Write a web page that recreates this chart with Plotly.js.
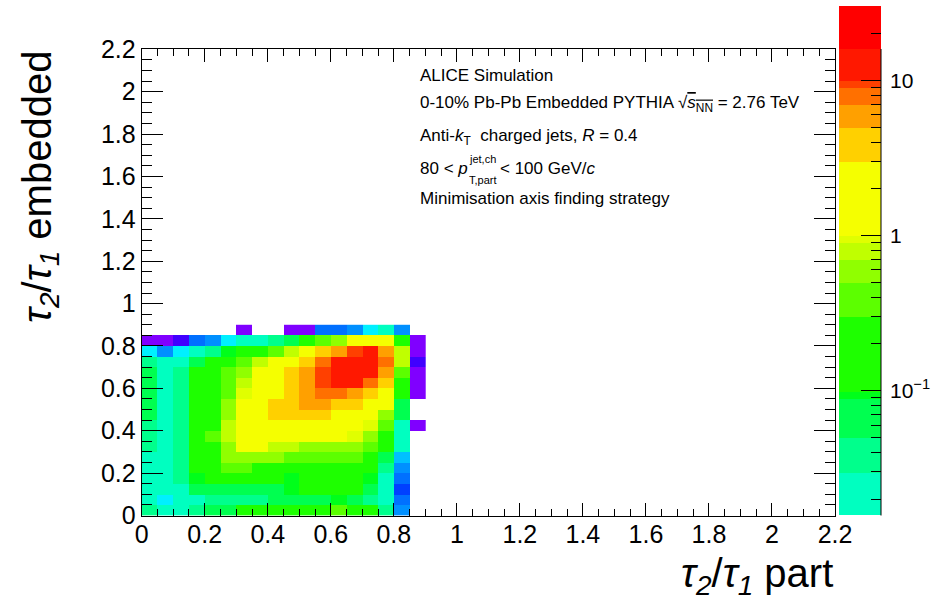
<!DOCTYPE html>
<html>
<head>
<meta charset="utf-8">
<script src="https://cdn.plot.ly/plotly-3.0.1.min.js"></script>
<style>html,body{margin:0;padding:0;background:#fff;}</style>
</head>
<body>
<div id="chart" style="width:932px;height:600px;"></div>
<script>
// ---------------- DATA ----------------
// bin edges of tau2/tau1 (part) and tau2/tau1 (embedded)
const xBinEdges = [0,0.05,0.1,0.15,0.2,0.25,0.3,0.35,0.4,0.45,0.5,0.55,0.6,0.65,0.7,0.75,0.8,0.85,0.9];
const yBinEdges = [0,0.05,0.1,0.15,0.2,0.25,0.3,0.35,0.4,0.45,0.5,0.55,0.6,0.65,0.7,0.75,0.8,0.85,0.9];

// bin contents, one row per embedded bin (bottom row first), null = empty
const row00 = [0.04,0.022,0.022,0.04,0.07,0.07,0.2,0.2,0.2,0.2,0.2,0.2,0.4,0.2,0.2,0.03,0.005,null];
const row01 = [0.022,0.012,0.022,0.022,0.04,0.04,0.04,0.04,0.07,0.07,0.07,0.07,0.095,0.07,0.04,0.022,0.0035,null];
const row02 = [0.022,0.022,0.022,0.07,0.07,0.07,0.07,0.07,0.07,0.095,0.2,0.2,0.2,0.2,0.07,0.022,0.002,null];
const row03 = [0.022,0.022,0.04,0.095,0.2,0.2,0.2,0.2,0.2,0.095,0.2,0.2,0.2,0.2,0.095,0.022,0.0035,null];
const row04 = [0.022,0.022,0.04,0.2,0.2,0.4,0.4,0.2,0.2,0.2,0.2,0.2,0.2,0.2,0.2,0.04,0.005,null];
const row05 = [0.022,0.022,0.04,0.2,0.2,0.6,0.6,0.6,0.6,0.4,0.4,0.4,0.4,0.4,0.2,0.07,0.008,null];
const row06 = [0.04,0.022,0.04,0.2,0.2,0.6,2,2,0.8,0.8,0.6,0.6,0.6,0.6,0.4,0.2,0.022,null];
const row07 = [0.04,0.022,0.04,0.2,0.4,0.8,2,2,2,2,2,2,2,0.95,0.6,0.2,0.022,null];
const row08 = [0.04,0.022,0.04,0.2,0.2,0.8,2,2,2,2,2,2,2,2,0.95,0.4,0.022,0.0008];
const row09 = [0.07,0.022,0.04,0.2,0.2,0.6,2,2,4,4,4,4,2,2,2,0.6,0.07,null];
const row10 = [0.07,0.022,0.04,0.2,0.2,0.6,2,2,4,4,6,6,4,4,2,2,0.07,null];
const row11 = [0.07,0.022,0.04,0.2,0.2,0.4,0.95,2,2,4,6,8,8,6,4,2,0.2,0.0008];
const row12 = [0.07,0.022,0.04,0.2,0.2,0.4,0.8,2,2,4,6,9.5,13,13,8,4,0.2,0.0008];
const row13 = [0.07,0.022,0.04,0.2,0.2,0.4,0.6,2,2,4,6,9.5,13,13,13,6,0.4,0.0008];
const row14 = [0.04,0.022,0.022,0.07,0.2,0.2,0.4,0.8,2,2,4,8,13,13,13,8,0.8,0.0013];
const row15 = [0.012,0.005,0.012,0.022,0.04,0.095,0.2,0.2,0.4,0.8,2,4,6,9.5,13,6,0.8,0.0008];
const row16 = [0.0008,0.0008,0.0013,0.003,0.005,0.012,0.022,0.022,0.04,0.07,0.2,0.4,0.6,2,2,2,0.2,0.0008];
const row17 = [null,null,null,null,null,null,0.0008,null,null,0.0008,0.0008,0.003,0.003,0.005,0.012,0.022,0.005,null];
const counts = [row00,row01,row02,row03,row04,row05,row06,row07,row08,row09,row10,row11,row12,row13,row14,row15,row16,row17];

// axis tick labels
const cbTickVals = [0.1, 1, 10];
const cbTickText = ['10<sup>\u22121</sup>', '1', '10'];
const cbMinorVals = [0.02,0.03,0.04,0.05,0.06,0.07,0.08,0.09,0.2,0.3,0.4,0.5,0.6,0.7,0.8,0.9,2,3,4,5,6,7,8,9,20,30];

// ---------------- PALETTE (log10 contour levels + colours) ----------------
const levelEdges = [-3.2,-3.0,-2.8,-2.6,-2.4,-2.2,-2.0,-1.801,-1.529,-1.304,-1.053,-1.008,-0.525,-0.306,-0.157,-0.048,0,0.473,0.693,0.841,0.950,0.995,1.202,1.479];
const levelColors = ['#8000ff','#4000ff','#0040ff','#0070ff','#0090ff','#00c0ff','#00f0ff',
  '#00ffc0','#00ff8c','#00ff50','#00ff1a','#1eff00','#5cff00','#90ff00','#c0ff00','#e0ff00','#f5ff00',
  '#ffd000','#ffa000','#ff7000','#ff4000','#ff1800','#ff0000'];
const cbFirstLevel = 7; // colour bar shows levels from here up

const zmin = levelEdges[0], zmax = levelEdges[levelEdges.length-1];
const colorscale = [];
for (let i = 0; i < levelColors.length; i++) {
  colorscale.push([(levelEdges[i]-zmin)/(zmax-zmin), levelColors[i]]);
  colorscale.push([(levelEdges[i+1]-zmin)/(zmax-zmin), levelColors[i]]);
}
colorscale[0][0] = 0; colorscale[colorscale.length-1][0] = 1;

const zLog = counts.map(r => r.map(v => v == null ? null : Math.log10(v)));

const cbEdges = levelEdges.slice(cbFirstLevel).map(e => Math.pow(10, e));
const cbZ = [];
for (let i = cbFirstLevel; i < levelColors.length; i++) cbZ.push([(levelEdges[i]+levelEdges[i+1])/2]);

// ---------------- TRACES ----------------
const traces = [
  {type:'heatmap', x:xBinEdges, y:yBinEdges, z:zLog, zmin:zmin, zmax:zmax, colorscale:colorscale,
   showscale:false, hoverongaps:false, xaxis:'x', yaxis:'y'},
  {type:'heatmap', x:[0,1], y:cbEdges, z:cbZ, zmin:zmin, zmax:zmax, colorscale:colorscale,
   showscale:false, xaxis:'x2', yaxis:'y2'},
  {type:'scatter', x:[0.5], y:[1], mode:'markers', marker:{opacity:0}, hoverinfo:'skip', xaxis:'x2', yaxis:'y3'}
];

// ---------------- LAYOUT ----------------
const W = 932, H = 600;
const FONT = 'Liberation Sans, Arial, Helvetica, sans-serif';
const px = v => v / W, py = v => 1 - v / H;
const axCommon = {range:[0,2.2], dtick:0.2, tick0:0, ticks:'inside', tickcolor:'black', tickwidth:1,
  showline:true, linecolor:'black', linewidth:1, mirror:'allticks', showgrid:false, zeroline:false,
  tickfont:{family:FONT, size:25, color:'black'}, fixedrange:true};
const TXT = {family:FONT, size:17, color:'black'};
const SCR = {family:FONT, size:11, color:'black'};

const layout = {
  width:W, height:H, margin:{l:0, r:0, t:0, b:0}, paper_bgcolor:'white', plot_bgcolor:'white',
  showlegend:false, font:{family:FONT, color:'black'},
  xaxis: Object.assign({}, axCommon, {domain:[px(141.7), px(835)], anchor:'y', ticklen:13, ticklabelstandoff:-4,
    minor:{dtick:0.05, tick0:0, ticks:'inside', ticklen:7, tickcolor:'black', tickwidth:1, showgrid:false}}),
  yaxis: Object.assign({}, axCommon, {domain:[py(515.5), py(49.3)], anchor:'x', ticklen:21,
    minor:{dtick:0.05, tick0:0, ticks:'inside', ticklen:10.5, tickcolor:'black', tickwidth:1, showgrid:false}}),
  xaxis2:{domain:[px(839), px(881)], range:[0,1], visible:false, anchor:'y2', fixedrange:true},
  yaxis2:{domain:[py(515), py(6)], type:'log', range:[levelEdges[cbFirstLevel], zmax], anchor:'x2', side:'right',
    tickmode:'array', tickvals:cbTickVals, ticktext:cbTickText, ticks:'inside', ticklen:20, tickcolor:'black', tickwidth:1,
    ticklabelstandoff:8,
    showline:false, showgrid:false, zeroline:false, tickfont:{family:FONT, size:21, color:'black'}, fixedrange:true},
  yaxis3:{overlaying:'y2', type:'log', range:[levelEdges[cbFirstLevel], zmax], anchor:'x2', side:'right',
    tickmode:'array', tickvals:cbMinorVals, ticks:'inside', ticklen:10, tickcolor:'black', tickwidth:1,
    showticklabels:false, showline:false, showgrid:false, zeroline:false, fixedrange:true},
  shapes:[
    {type:'line', xref:'paper', yref:'paper', x0:px(881), x1:px(881), y0:py(515.5), y1:py(49), line:{color:'black', width:1}}
  ],
  annotations:[
    {text:'<i>\u03c4</i><sub><i>2</i></sub>/<i>\u03c4</i><sub><i>1</i></sub> part', xref:'paper', yref:'paper',
     x:px(835), y:py(576), xanchor:'right', yanchor:'middle', showarrow:false, font:{family:FONT, size:40, color:'black'}},
    {text:'<i>\u03c4</i><sub><i>2</i></sub>/<i>\u03c4</i><sub><i>1</i></sub> embedded', xref:'paper', yref:'paper',
     x:px(40), y:py(49), xanchor:'center', yanchor:'top', textangle:-90, showarrow:false, font:{family:FONT, size:40, color:'black'}},
    {text:'ALICE Simulation', xref:'paper', yref:'paper', x:px(418), y:py(75), xanchor:'left', yanchor:'middle',
     showarrow:false, font:TXT},
    {text:'0-10% Pb-Pb Embedded PYTHIA \u221a<span style="text-decoration:overline"><i>s</i><sub>NN</sub></span> = 2.76 TeV', xref:'paper', yref:'paper',
     x:px(418), y:py(104), xanchor:'left', yanchor:'middle', showarrow:false, font:TXT},
    {text:'Anti-<i>k</i><sub>T</sub>  charged jets, <i>R</i> = 0.4', xref:'paper', yref:'paper', x:px(418), y:py(137),
     xanchor:'left', yanchor:'middle', showarrow:false, font:TXT},
    {text:'80 < <i>p</i>', xref:'paper', yref:'paper', x:px(418), y:py(168), xanchor:'left', yanchor:'middle',
     showarrow:false, font:TXT},
    {text:'jet,ch', xref:'paper', yref:'paper', x:px(467), y:py(159), xanchor:'left', yanchor:'middle',
     showarrow:false, font:SCR},
    {text:'T,part', xref:'paper', yref:'paper', x:px(467), y:py(180), xanchor:'left', yanchor:'middle',
     showarrow:false, font:SCR},
    {text:'< 100 GeV/<i>c</i>', xref:'paper', yref:'paper', x:px(498), y:py(168), xanchor:'left', yanchor:'middle',
     showarrow:false, font:TXT},
    {text:'Minimisation axis finding strategy', xref:'paper', yref:'paper', x:px(418), y:py(198), xanchor:'left', yanchor:'middle',
     showarrow:false, font:TXT}
  ]
};

Plotly.newPlot('chart', traces, layout, {displayModeBar:false, staticPlot:true});
</script>
</body>
</html>
